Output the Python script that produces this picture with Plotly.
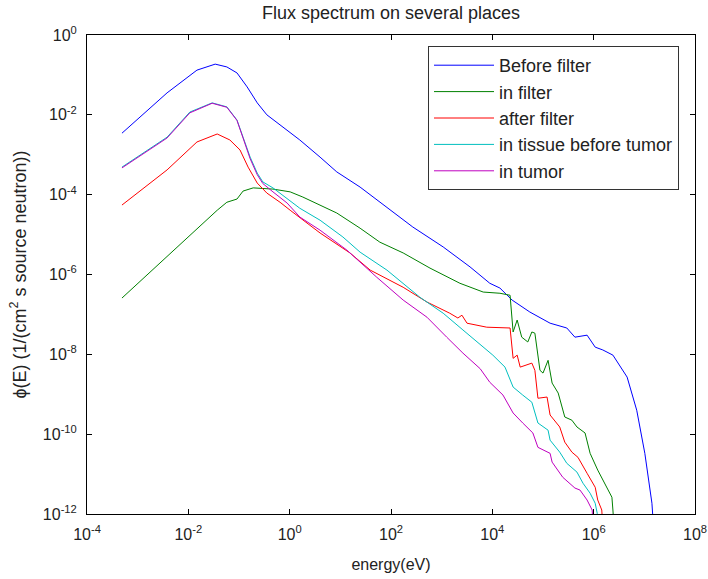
import plotly.graph_objects as go

# values, as log10(energy [eV]) and log10(flux)
blue_logE = [-3.31, -2.42, -1.83, -1.47, -1.24, -1.04, -0.84, -0.64, -0.45, -0.19, 0.01, 0.20, 0.60, 0.93,
             1.39, 1.92, 2.43, 3.03, 3.56, 3.95, 4.15, 4.39, 4.74, 5.14, 5.47, 5.63, 5.87, 6.03, 6.18, 6.38,
             6.66, 6.85, 7.01, 7.15, 7.18]
blue_logF = [-2.46, -1.45, -0.88, -0.73, -0.80, -0.95, -1.30, -1.70, -2.00, -2.26, -2.46, -2.63, -3.06, -3.43,
             -3.81, -4.31, -4.81, -5.31, -5.81, -6.22, -6.34, -6.64, -6.94, -7.22, -7.34, -7.57, -7.52, -7.82, -7.89, -8.02,
             -8.57, -9.40, -10.48, -11.73, -12.3]

green_logE = [-3.31, -2.50, -1.97, -1.43, -1.24, -1.04, -0.92, -0.72, -0.33, 0.01, 0.26, 0.93, 1.39, 1.78,
              2.24, 2.77, 3.36, 3.82, 4.15, 4.35, 4.41, 4.49, 4.58, 4.70, 4.78, 4.84, 4.94, 5.00, 5.10, 5.18,
              5.30, 5.43, 5.57, 5.67, 5.83, 5.93, 6.08, 6.28, 6.36, 6.38, 6.40]
green_logF = [-6.59, -5.64, -5.01, -4.39, -4.19, -4.11, -3.91, -3.83, -3.86, -3.93, -4.06, -4.46, -4.84, -5.19,
              -5.46, -5.84, -6.22, -6.44, -6.47, -6.52, -7.44, -7.14, -7.57, -7.69, -7.44, -7.47, -8.40, -8.47, -8.15, -8.72,
              -8.97, -9.57, -9.65, -9.82, -9.97, -10.48, -10.90, -11.40, -11.58, -11.90, -12.3]

red_logE = [-3.31, -2.42, -1.83, -1.43, -1.18, -0.98, -0.82, -0.64, -0.45, -0.19, 0.01, 0.60, 1.19, 1.59,
            2.24, 2.71, 3.16, 3.32, 3.40, 3.50, 3.89, 4.15, 4.35, 4.41, 4.49, 4.55, 4.68, 4.78, 4.84, 4.90,
            5.08, 5.14, 5.33, 5.43, 5.57, 5.69, 5.87, 6.03, 6.08, 6.16, 6.18]
red_logF = [-4.26, -3.38, -2.68, -2.48, -2.63, -2.88, -3.31, -3.71, -3.96, -4.19, -4.39, -4.96, -5.46, -5.89,
            -6.32, -6.69, -6.97, -7.09, -7.02, -7.22, -7.32, -7.34, -7.34, -8.10, -8.02, -8.32, -8.27, -8.22, -8.40, -9.10,
            -9.07, -9.52, -9.82, -10.20, -10.45, -10.58, -10.98, -11.33, -11.65, -11.90, -12.3]

cyan_logE = [-3.31, -2.42, -1.97, -1.53, -1.24, -1.04, -0.92, -0.78, -0.64, -0.53, -0.33, -0.05, 0.20, 0.60,
             1.05, 1.39, 1.92, 2.57, 3.03, 3.42, 3.82, 4.01, 4.25, 4.41, 4.60, 4.78, 4.90, 5.10, 5.14, 5.33,
             5.47, 5.67, 5.79, 5.93, 6.03, 6.07, 6.08]
cyan_logF = [-3.31, -2.56, -1.93, -1.70, -1.80, -2.13, -2.56, -3.06, -3.46, -3.68, -3.83, -4.09, -4.34, -4.64,
             -5.06, -5.44, -5.89, -6.57, -6.97, -7.39, -7.82, -8.02, -8.32, -8.82, -9.02, -9.20, -9.72, -9.90, -10.15, -10.45,
             -10.73, -10.95, -11.23, -11.48, -11.73, -11.98, -12.3]

magenta_logE = [-3.31, -2.42, -1.97, -1.53, -1.24, -1.04, -0.92, -0.78, -0.64, -0.53, -0.33, -0.05, 0.20, 0.60,
                1.13, 1.72, 2.24, 2.71, 3.10, 3.42, 3.76, 3.95, 4.21, 4.41, 4.60, 4.80, 4.90, 5.14, 5.18, 5.39,
                5.63, 5.73, 5.87, 5.97, 5.99]
magenta_logF = [-3.33, -2.58, -1.95, -1.71, -1.81, -2.14, -2.58, -3.10, -3.50, -3.72, -3.93, -4.21, -4.56, -4.89,
                -5.39, -6.07, -6.64, -7.07, -7.57, -7.97, -8.36, -8.70, -9.02, -9.47, -9.72, -9.97, -10.33, -10.48, -10.70, -11.08,
                -11.35, -11.40, -11.65, -11.90, -12.3]

series_names = ["Before filter", "in filter", "after filter", "in tissue before tumor", "in tumor"]
series_colors = ["#0000FF", "#008000", "#FF0000", "#00BFBF", "#BF00BF"]
series_data = [(blue_logE, blue_logF), (green_logE, green_logF), (red_logE, red_logF),
               (cyan_logE, cyan_logF), (magenta_logE, magenta_logF)]

x_tickvals = [1e-4, 1e-2, 1e0, 1e2, 1e4, 1e6, 1e8]
x_ticktext = ["10<sup>-4</sup>", "10<sup>-2</sup>", "10<sup>0</sup>", "10<sup>2</sup>",
              "10<sup>4</sup>", "10<sup>6</sup>", "10<sup>8</sup>"]
y_tickvals = [1e-12, 1e-10, 1e-8, 1e-6, 1e-4, 1e-2, 1e0]
y_ticktext = ["10<sup>-12</sup>", "10<sup>-10</sup>", "10<sup>-8</sup>", "10<sup>-6</sup>",
              "10<sup>-4</sup>", "10<sup>-2</sup>", "10<sup>0</sup>"]

FONT = "Liberation Sans, Arial, sans-serif"

fig = go.Figure()
for i, (name, color, (le, lf)) in enumerate(zip(series_names, series_colors, series_data)):
    fig.add_trace(go.Scatter(
        x=[10 ** v for v in le], y=[10 ** v for v in lf], mode="lines", name=name,
        line=dict(color=color, width=1), legendgroup=f"g{i}",
    ))

axis_common = dict(
    type="log", showline=True, linecolor="black", linewidth=1, mirror="ticks",
    ticks="inside", ticklen=5, tickcolor="black", showgrid=False, zeroline=False,
    tickfont=dict(family=FONT, size=16, color="#222222"),
)

fig.update_layout(
    width=708, height=579,
    margin=dict(l=87, r=13, t=35, b=65, autoexpand=False),
    paper_bgcolor="white", plot_bgcolor="white",
    title=dict(text="Flux spectrum on several places", x=(87 + 304) / 708, xanchor="center",
               y=1 - 13 / 579, yanchor="middle", font=dict(family=FONT, size=18, color="#222222")),
    xaxis=dict(axis_common, range=[-4, 8], tickvals=x_tickvals, ticktext=x_ticktext,
               ticklabelstandoff=6, automargin=False,
               title=dict(text="energy(eV)", font=dict(family=FONT, size=16, color="#222222"), standoff=16)),
    yaxis=dict(axis_common, range=[-12, 0], tickvals=y_tickvals, ticktext=y_ticktext,
               ticklabelstandoff=6,
               title=dict(text="ϕ(E) (1/(cm<sup>2</sup> s source neutron))",
                          font=dict(family=FONT, size=18, color="#222222"), standoff=11)),
    legend=dict(x=(428 - 87) / 608, y=(514 - 46) / 479, xanchor="left", yanchor="top",
                bordercolor="#333333", borderwidth=1, bgcolor="white",
                font=dict(family=FONT, size=18, color="#222222"), tracegroupgap=0,
                itemwidth=60),
    showlegend=True,
)

fig.write_html("out.html")
